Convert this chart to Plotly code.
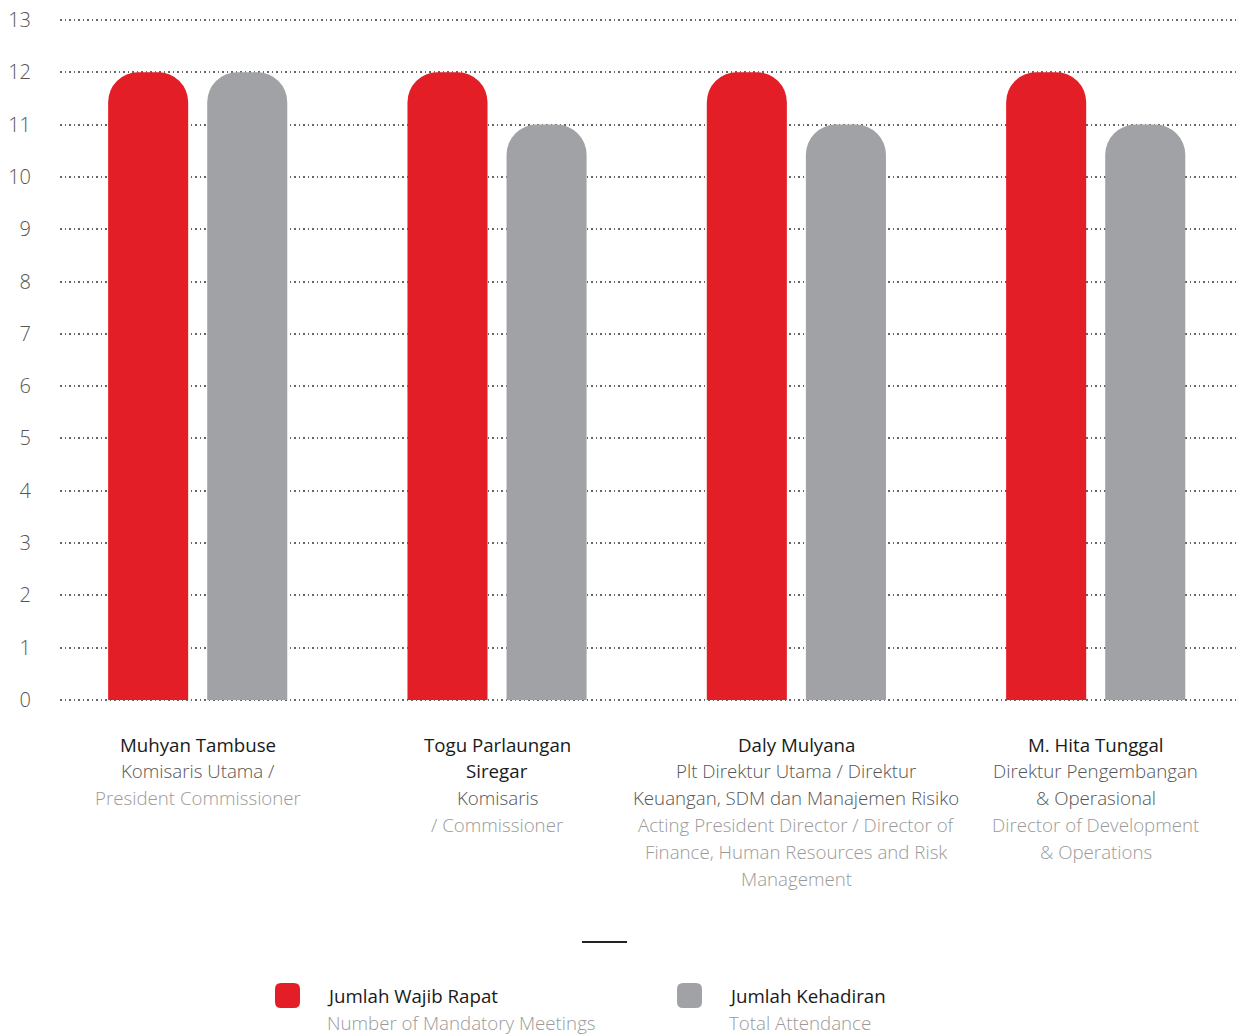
import plotly.graph_objects as go

categories = ["Muhyan Tambuse", "Togu Parlaungan Siregar", "Daly Mulyana", "M. Hita Tunggal"]
mandatory = [12, 12, 12, 12]
attendance = [12, 11, 11, 11]

name_lines = [["Muhyan Tambuse"], ["Togu Parlaungan", "Siregar"], ["Daly Mulyana"], ["M. Hita Tunggal"]]
role_id_lines = [["Komisaris Utama /"], ["Komisaris"], ["Plt Direktur Utama / Direktur", "Keuangan, SDM dan Manajemen Risiko"],
                 ["Direktur Pengembangan", "& Operasional"]]
role_en_lines = [["President Commissioner"], ["/ Commissioner"],
                 ["Acting President Director / Director of", "Finance, Human Resources and Risk", "Management"],
                 ["Director of Development", "& Operations"]]

legend_titles = ["Jumlah Wajib Rapat", "Jumlah Kehadiran"]
legend_subs = ["Number of Mandatory Meetings", "Total Attendance"]

RED = "#E41E26"
GRAY = "#A1A2A6"
FONT = "Open Sans"
FS = 18.7

fig = go.Figure()
fig.add_trace(go.Bar(x=categories, y=mandatory, name=legend_titles[0], marker=dict(color=RED, cornerradius=30, line=dict(width=0))))
fig.add_trace(go.Bar(x=categories, y=attendance, name=legend_titles[1], marker=dict(color=GRAY, cornerradius=30, line=dict(width=0))))

T_M, B_M = 18, 333
H_TOP, H_BOT = T_M, 1035 - B_M
def py(p):
    return (H_BOT - p) / (H_BOT - H_TOP)
def px(p):
    return (p - 60) / 1177

ann = []
line_h = 26.8
for i, c in enumerate(categories):
    y0 = 744
    k = 0
    for t in name_lines[i]:
        ann.append(dict(x=c, xref="x", y=py(y0 + k * line_h), yref="paper", text=t, showarrow=False,
                        font=dict(family=FONT, size=FS, color="#1a1a1a", weight=500), xanchor="center", yanchor="middle"))
        k += 1
    for t in role_id_lines[i]:
        ann.append(dict(x=c, xref="x", y=py(y0 + k * line_h), yref="paper", text=t, showarrow=False,
                        font=dict(family=FONT, size=FS, color="#555555", weight=300), xanchor="center", yanchor="middle"))
        k += 1
    for t in role_en_lines[i]:
        ann.append(dict(x=c, xref="x", y=py(y0 + k * line_h), yref="paper", text=t, showarrow=False,
                        font=dict(family=FONT, size=FS, color="#9a9a9a", weight=300), xanchor="center", yanchor="middle"))
        k += 1

shapes = []
shapes.append(dict(type="line", xref="paper", yref="paper", x0=px(582), x1=px(627), y0=py(942), y1=py(942),
                   line=dict(color="#222222", width=2)))

leg_x = [275, 677]
leg_colors = [RED, GRAY]
pw, ph = 1177, H_BOT - H_TOP
for j in range(2):
    x0, x1 = px(leg_x[j]), px(leg_x[j] + 25)
    y0, y1 = py(1008), py(983)
    r = 6
    rx = r / pw
    ry = r / ph
    path = (f"M {x0+rx},{y0} L {x1-rx},{y0} Q {x1},{y0} {x1},{y0+ry} L {x1},{y1-ry} Q {x1},{y1} {x1-rx},{y1} "
            f"L {x0+rx},{y1} Q {x0},{y1} {x0},{y1-ry} L {x0},{y0+ry} Q {x0},{y0} {x0+rx},{y0} Z")
    shapes.append(dict(type="path", xref="paper", yref="paper", path=path, fillcolor=leg_colors[j], line=dict(width=0)))
    ann.append(dict(x=px(leg_x[j] + 50), xref="paper", y=py(995), yref="paper", text=legend_titles[j], showarrow=False,
                    font=dict(family=FONT, size=FS, color="#1a1a1a", weight=500), xanchor="left", yanchor="middle"))
    ann.append(dict(x=px(leg_x[j] + 50), xref="paper", y=py(1022), yref="paper", text=legend_subs[j], showarrow=False,
                    font=dict(family=FONT, size=FS, color="#9a9a9a", weight=300), xanchor="left", yanchor="middle"))

eps = 2 / 680 * 13
fig.update_layout(
    width=1237, height=1035,
    margin=dict(l=60, r=0, t=T_M, b=B_M),
    paper_bgcolor="white", plot_bgcolor="white",
    barmode="group", bargap=0.338, bargroupgap=0.192,
    showlegend=False,
    annotations=ann, shapes=shapes,
    xaxis=dict(range=[-0.46, 3.472], showticklabels=False, showgrid=False, zeroline=False, showline=False, ticks=""),
    yaxis=dict(range=[-eps, 13 + eps], dtick=1, tick0=0, showgrid=True, gridcolor="#666666", gridwidth=1.5,
               griddash="1.5px,3px", zeroline=False, showline=False, ticks="",
               tickfont=dict(family=FONT, size=20, color="#555555", weight=300), ticklabelstandoff=28),
)
fig.write_html("out.html")
